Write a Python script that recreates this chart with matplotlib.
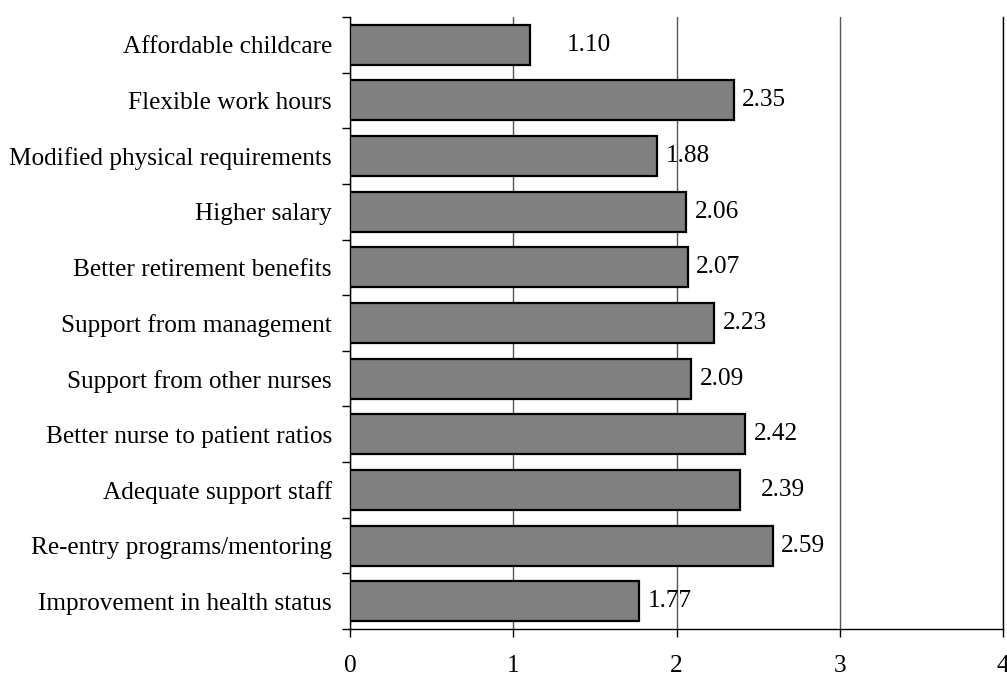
import matplotlib
matplotlib.use("Agg")
import matplotlib.pyplot as plt
import numpy as np

categories = [
    "Affordable childcare",
    "Flexible work hours",
    "Modified physical requirements",
    "Higher salary",
    "Better retirement benefits",
    "Support from management",
    "Support from other nurses",
    "Better nurse to patient ratios",
    "Adequate support staff",
    "Re-entry programs/mentoring",
    "Improvement in health status",
]
values = [1.10, 2.35, 1.88, 2.06, 2.07, 2.23, 2.09, 2.42, 2.39, 2.59, 1.77]
value_labels = ["1.10", "2.35", "1.88", "2.06", "2.07", "2.23", "2.09", "2.42", "2.39", "2.59", "1.77"]
x_ticks = [0, 1, 2, 3, 4]

# label offsets (points) - style only
label_offsets = {0: 27, 8: 15}

plt.rcParams['font.family'] = ['Liberation Serif', 'DejaVu Serif']
FS = 18.2

fig = plt.figure(figsize=(10.07, 6.77), dpi=100)
ax = fig.add_axes([350 / 1007, 48 / 677, 653 / 1007, 612 / 677])

y = np.arange(len(categories))
ax.barh(y, values, height=0.72, color='#808080', edgecolor='black', linewidth=1.6, zorder=3)

for i, (v, lab) in enumerate(zip(values, value_labels)):
    off = label_offsets.get(i, 6)
    ax.annotate(lab, xy=(v, i), xytext=(off, 0), textcoords='offset points',
                ha='left', va='center', fontsize=FS, zorder=4)

ax.set_xlim(0, 4)
ax.set_ylim(len(categories) - 0.5, -0.5)

ax.set_xticks(x_ticks)
ax.set_xticklabels([str(t) for t in x_ticks], fontsize=FS)
ax.set_yticks(y)
ax.set_yticklabels(categories, fontsize=FS)
ax.set_yticks(np.arange(len(categories) + 1) - 0.5, minor=True)

ax.tick_params(axis='y', which='major', length=0, pad=13)
ax.tick_params(axis='y', which='minor', length=6, width=1, direction='out')
ax.tick_params(axis='x', which='major', length=6, width=1, direction='out', pad=13)

ax.xaxis.grid(True, color='#555555', linewidth=1, zorder=0)
ax.set_axisbelow(True)

ax.spines['top'].set_visible(False)
ax.spines['right'].set_visible(True)
for s in ['left', 'bottom', 'right']:
    ax.spines[s].set_linewidth(1)
    ax.spines[s].set_color('black')

fig.savefig("out.png", dpi=100)
